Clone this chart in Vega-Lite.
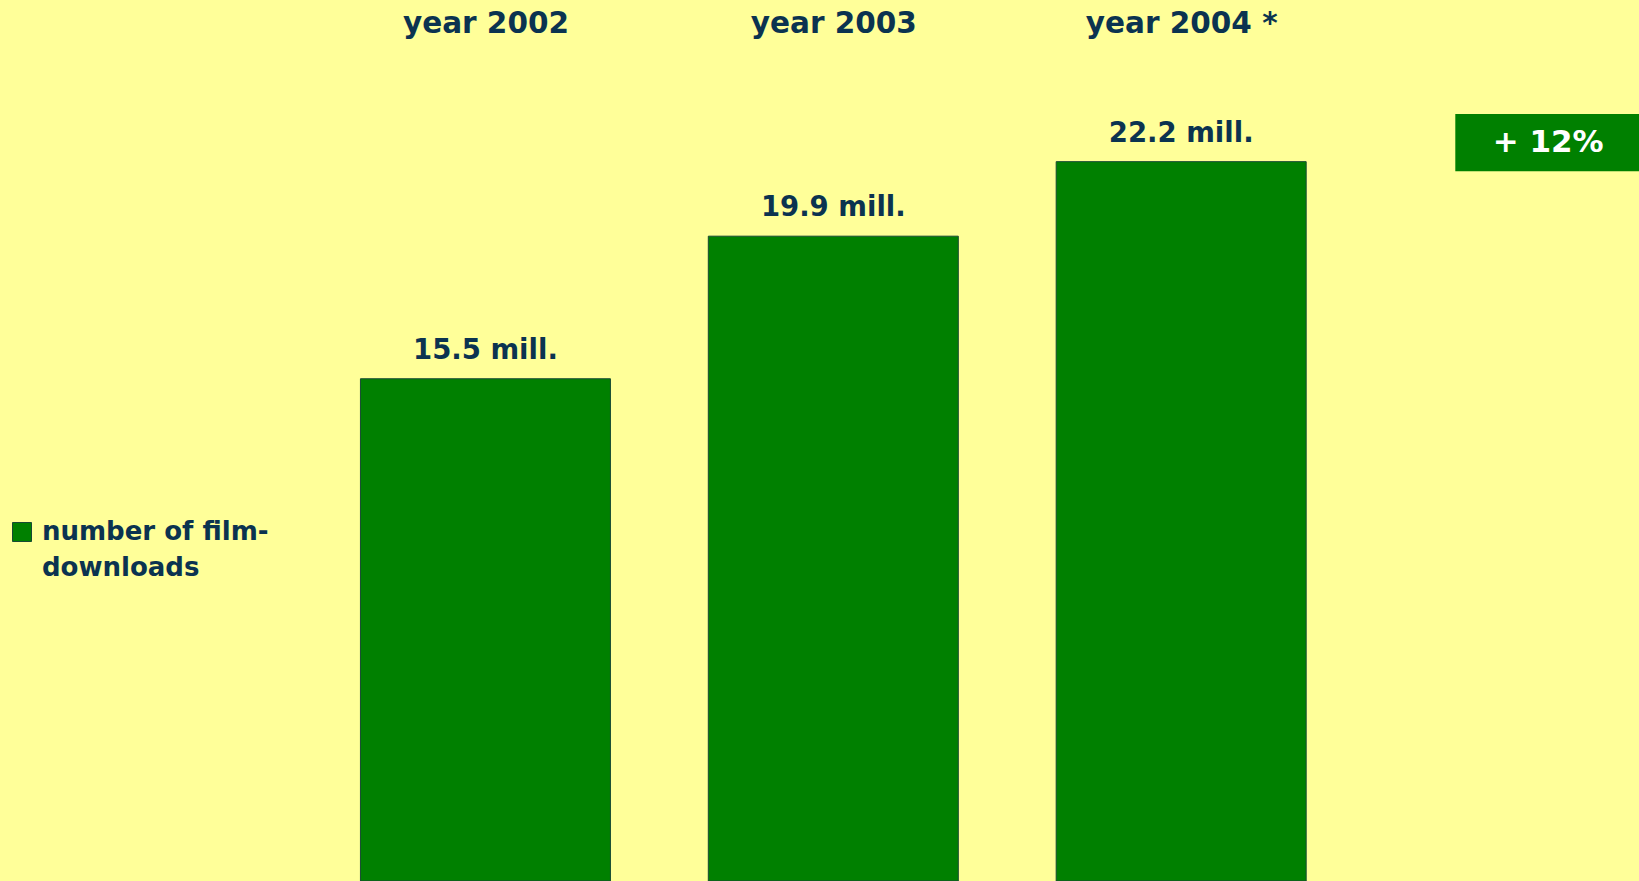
{
  "$schema": "https://vega.github.io/schema/vega-lite/v6.json",
  "width": 1639,
  "height": 836,
  "autosize": {"type": "none"},
  "padding": {"top": 45, "left": 0, "right": 0, "bottom": 0},
  "background": "#ffff99",
  "config": {
    "view": {"stroke": null},
    "font": "DejaVu Sans",
    "style": {"guide-label": {"lineHeight": 36}}
  },
  "datasets": {
    "downloads": [
      {"year": 2002, "value": 15.5, "label": "15.5 mill.", "series": "number of film-downloads"},
      {"year": 2003, "value": 19.9, "label": "19.9 mill.", "series": "number of film-downloads"},
      {"year": 2004, "value": 22.2, "label": "22.2 mill.", "series": "number of film-downloads"}
    ],
    "note": [
      {"x": 2004.788, "x2": 2005.5, "y": 23.67, "y2": 21.9, "xc": 2005.055, "yc": 22.78, "text": "+ 12%"}
    ]
  },
  "layer": [
    {
      "data": {"name": "downloads"},
      "mark": {"type": "bar", "width": 250, "stroke": "#174a33", "strokeWidth": 1},
      "encoding": {
        "x": {
          "field": "year", "type": "quantitative",
          "scale": {"domain": [2000.6189, 2005.3017], "nice": false, "zero": false},
          "axis": {
            "orient": "top", "values": [2002, 2003, 2004], "format": "d",
            "labelExpr": "'year ' + datum.label + (datum.value == 2004 ? ' *' : '')",
            "ticks": false, "domain": false, "grid": false, "title": null,
            "labelFontSize": 29.5, "labelFontWeight": "bold", "labelColor": "#0b3350",
            "labelPadding": 22, "labelBaseline": "middle", "labelFont": "DejaVu Sans",
            "labelLimit": 400
          }
        },
        "y": {
          "field": "value", "type": "quantitative",
          "scale": {"domain": [0, 25.8], "nice": false},
          "axis": null
        },
        "color": {
          "field": "series", "type": "nominal",
          "scale": {"range": ["#008000"]},
          "legend": {
            "orient": "none", "legendX": 9, "legendY": 474, "title": null,
            "symbolType": "square", "symbolSize": 361, "symbolStrokeColor": "#174a33",
            "symbolStrokeWidth": 1, "symbolFillColor": "#008000",
            "labelFontSize": 26, "labelFontWeight": "bold", "labelColor": "#0b3350",
            "labelFont": "DejaVu Sans", "labelOffset": 7, "labelLimit": 400,
            "labelBaseline": "middle", "padding": 0,
            "labelExpr": "['number of film-', 'downloads']"
          }
        }
      }
    },
    {
      "data": {"name": "downloads"},
      "mark": {"type": "text", "baseline": "middle", "dy": -28, "fontSize": 27.5, "fontWeight": "bold", "color": "#0b3350", "font": "DejaVu Sans"},
      "encoding": {
        "x": {"field": "year", "type": "quantitative"},
        "y": {"field": "value", "type": "quantitative"},
        "text": {"field": "label"}
      }
    },
    {
      "data": {"name": "note"},
      "mark": {"type": "rect", "color": "#008000", "clip": true},
      "encoding": {
        "x": {"field": "x", "type": "quantitative"},
        "x2": {"field": "x2"},
        "y": {"field": "y", "type": "quantitative"},
        "y2": {"field": "y2"}
      }
    },
    {
      "data": {"name": "note"},
      "mark": {"type": "text", "baseline": "middle", "align": "center", "fontSize": 31, "fontWeight": "bold", "color": "white", "font": "DejaVu Sans"},
      "encoding": {
        "x": {"field": "xc", "type": "quantitative"},
        "y": {"field": "yc", "type": "quantitative"},
        "text": {"field": "text"}
      }
    }
  ]
}
